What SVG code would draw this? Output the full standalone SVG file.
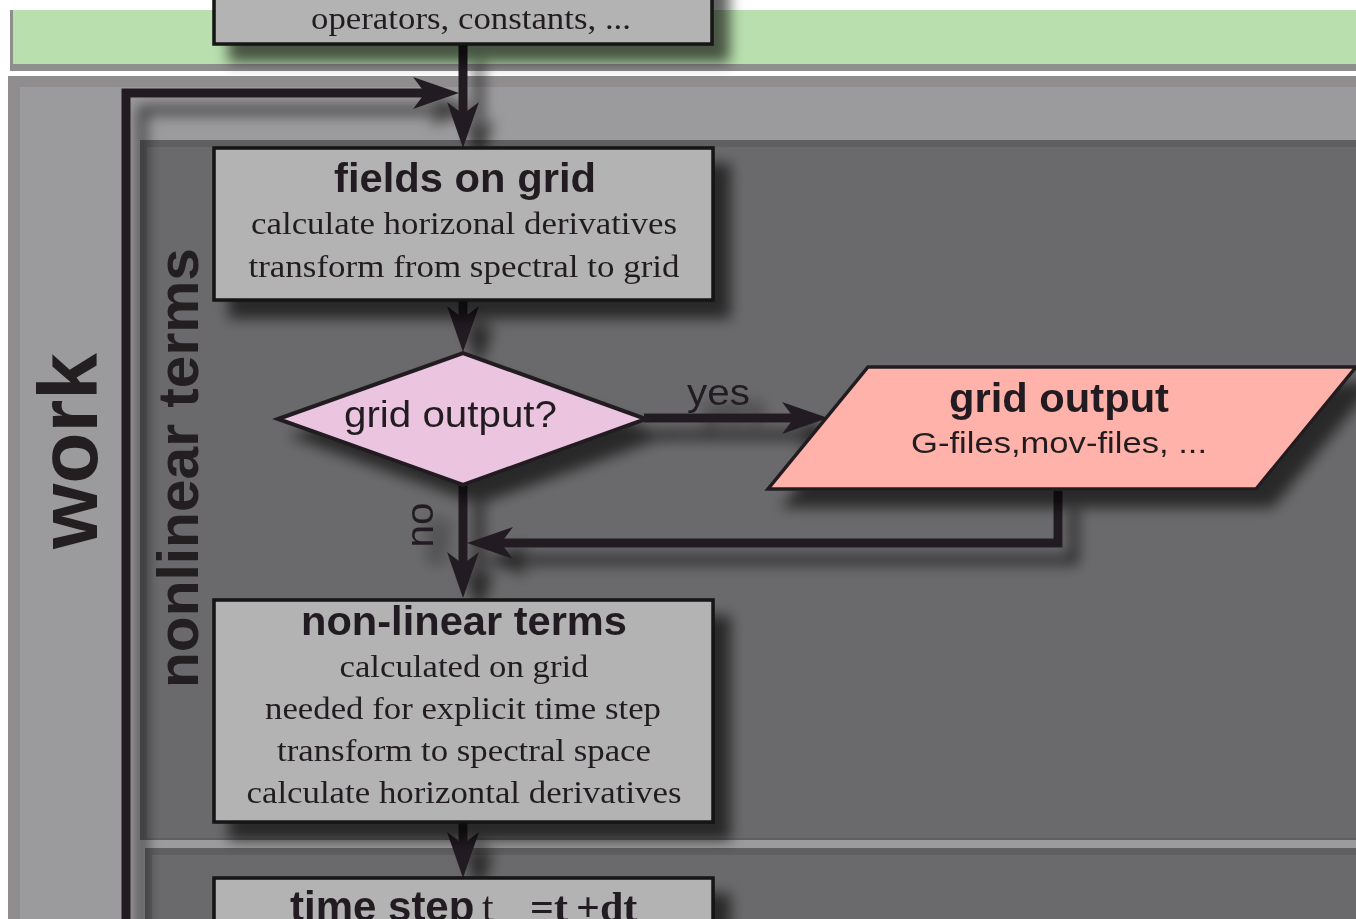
<svg xmlns="http://www.w3.org/2000/svg" width="1356" height="919" viewBox="0 0 1356 919">
<defs>
<style>
.box{fill:#b3b3b3;stroke:#141213;stroke-width:3.5}
.bt{font-family:"Liberation Sans",Arial,sans-serif;font-weight:bold;fill:#231f20}
.st{font-family:"Liberation Sans",Arial,sans-serif;fill:#231f20}
.sr{font-family:"Liberation Serif","Times New Roman",serif;fill:#231f20}
.con{fill:none;stroke:#231f20;stroke-width:9;stroke-linejoin:miter}
</style>
<filter id="sh" filterUnits="userSpaceOnUse" x="0" y="-100" width="1400" height="1100">
<feGaussianBlur in="SourceAlpha" stdDeviation="7"/>
<feOffset dx="16" dy="17" result="o"/>
<feComponentTransfer><feFuncA type="linear" slope="0.62"/></feComponentTransfer>
<feMerge><feMergeNode/><feMergeNode in="SourceGraphic"/></feMerge>
</filter>
<marker id="ah" viewBox="-14 -18 50 36" markerWidth="50" markerHeight="36" refX="0" refY="0" orient="auto" markerUnits="userSpaceOnUse">
<path d="M34,0 L-12,-16 L0,0 L-12,16 Z" fill="#231f20"/>
</marker>
</defs>

<g id="panels">
<rect x="0" y="0" width="1356" height="919" fill="#ffffff"/>
<rect x="10" y="10" width="1346" height="61" fill="#8f8e8f"/>
<rect x="13" y="10" width="1343" height="54" fill="#b9dfae"/>
<rect x="8" y="76" width="1348" height="843" fill="#8f8d8e"/>
<rect x="20" y="87" width="1336" height="832" fill="#9b9b9d"/>
<rect x="140" y="140" width="1216" height="700" fill="#5f5e60"/>
<rect x="147" y="147" width="1209" height="691" fill="#6a6a6c"/>
<rect x="145" y="848" width="1211" height="71" fill="#5f5e60"/>
<rect x="152" y="855" width="1204" height="64" fill="#6a6a6c"/>
<text class="bt" font-size="84" text-anchor="middle" textLength="196" lengthAdjust="spacingAndGlyphs" transform="translate(97,451) rotate(-90)">work</text>
<text class="bt" font-size="58" text-anchor="middle" textLength="440" lengthAdjust="spacingAndGlyphs" transform="translate(198,468) rotate(-90)">nonlinear terms</text>
</g>

<g id="connectors" filter="url(#sh)">
<path class="con" d="M463,44 V114" marker-end="url(#ah)"/>
<path class="con" d="M126,925 V93 H425" marker-end="url(#ah)"/>
<path class="con" d="M463,300 V318" marker-end="url(#ah)"/>
<path class="con" d="M644,418 H794" marker-end="url(#ah)"/>
<path class="con" d="M463,485 V564" marker-end="url(#ah)"/>
<path class="con" d="M1058,490 V543 H501" marker-end="url(#ah)"/>
<path class="con" d="M463,822 V844" marker-end="url(#ah)"/>
<text class="st" font-size="37" x="687" y="405" textLength="63" lengthAdjust="spacingAndGlyphs">yes</text>
<text class="st" font-size="38" text-anchor="middle" textLength="45" lengthAdjust="spacingAndGlyphs" transform="translate(433,525) rotate(-90)">no</text>
</g>

<g id="node-init" filter="url(#sh)">
<rect class="box" x="214" y="-60" width="498" height="104"/>
<text class="sr" font-size="31" x="471" y="29" text-anchor="middle" textLength="320" lengthAdjust="spacingAndGlyphs">operators, constants, ...</text>
</g>

<g id="node-fields" filter="url(#sh)">
<rect class="box" x="214" y="148" width="499" height="152"/>
<text class="bt" font-size="41" x="465" y="192" text-anchor="middle" textLength="262" lengthAdjust="spacingAndGlyphs">fields on grid</text>
<text class="sr" font-size="31" x="464" y="234" text-anchor="middle" textLength="426" lengthAdjust="spacingAndGlyphs">calculate horizonal derivatives</text>
<text class="sr" font-size="31" x="464" y="277" text-anchor="middle" textLength="431" lengthAdjust="spacingAndGlyphs">transform from spectral to grid</text>
</g>

<g id="node-decision" filter="url(#sh)">
<polygon points="278,419 463,353 646,419 463,485" fill="#ebc5e0" stroke="#231f20" stroke-width="4"/>
<text class="st" font-size="36" x="344" y="427" textLength="213" lengthAdjust="spacingAndGlyphs">grid output?</text>
</g>

<g id="node-gridout" filter="url(#sh)">
<polygon points="868,367 1356,367 1256,489 768,489" fill="#ffb2a9" stroke="#231f20" stroke-width="3.5"/>
<text class="bt" font-size="41" x="1059" y="412" text-anchor="middle" textLength="220" lengthAdjust="spacingAndGlyphs">grid output</text>
<text class="st" font-size="30" x="1059" y="453" text-anchor="middle" textLength="296" lengthAdjust="spacingAndGlyphs">G-files,mov-files, ...</text>
</g>

<g id="node-nonlinear" filter="url(#sh)">
<rect class="box" x="214" y="600" width="499" height="222"/>
<text class="bt" font-size="41" x="464" y="635" text-anchor="middle" textLength="326" lengthAdjust="spacingAndGlyphs">non-linear terms</text>
<text class="sr" font-size="31" x="464" y="677" text-anchor="middle" textLength="249" lengthAdjust="spacingAndGlyphs">calculated on grid</text>
<text class="sr" font-size="31" x="463" y="719" text-anchor="middle" textLength="396" lengthAdjust="spacingAndGlyphs">needed for explicit time step</text>
<text class="sr" font-size="31" x="464" y="761" text-anchor="middle" textLength="374" lengthAdjust="spacingAndGlyphs">transform to spectral space</text>
<text class="sr" font-size="31" x="464" y="803" text-anchor="middle" textLength="435" lengthAdjust="spacingAndGlyphs">calculate horizontal derivatives</text>
</g>

<g id="node-timestep" filter="url(#sh)">
<rect class="box" x="214" y="878" width="499" height="80"/>
<text y="921"><tspan class="bt" font-size="42" x="290">time step</tspan><tspan class="sr" font-size="42" x="482">t</tspan><tspan class="sr" font-size="18" x="496" dy="13">n+1</tspan><tspan class="sr" font-size="42" font-weight="bold" x="530" dy="-13">=t</tspan><tspan class="sr" font-size="18" x="566" dy="13">n</tspan><tspan class="sr" font-size="42" font-weight="bold" x="576" dy="-13">+dt</tspan></text>
</g>
</svg>
